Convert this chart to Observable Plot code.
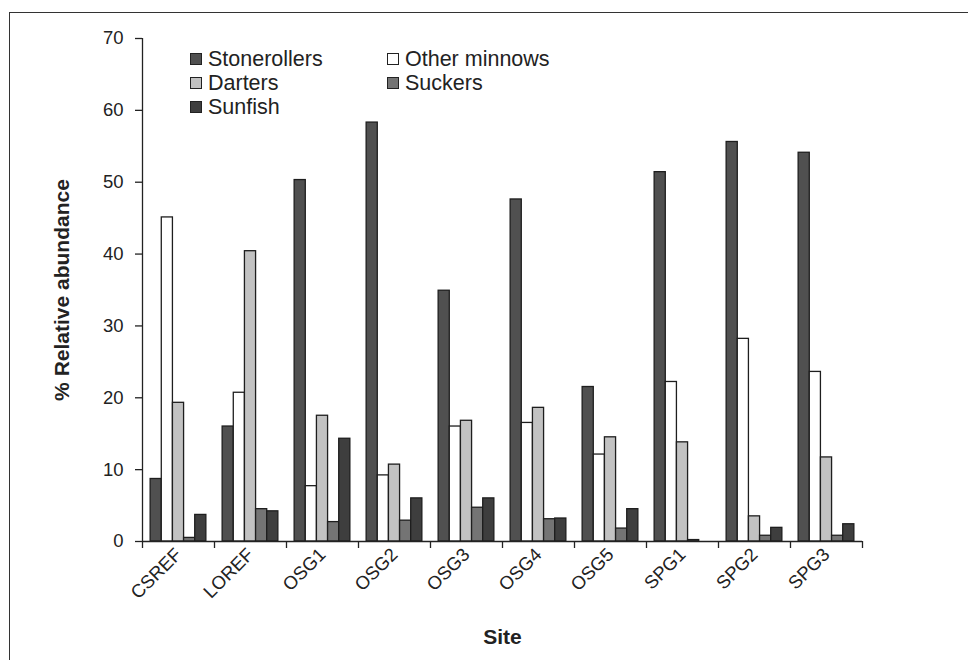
<!DOCTYPE html>
<html>
<head>
<meta charset="utf-8">
<script src="https://cdn.jsdelivr.net/npm/d3@7"></script>
<script src="https://cdn.jsdelivr.net/npm/@observablehq/plot@0.6"></script>
<style>
  html, body { margin: 0; padding: 0; background: #fff; }
  #wrap { position: relative; width: 968px; height: 660px; overflow: hidden; font-family: "Liberation Sans", Arial, sans-serif; }
  #border { position: absolute; left: 9px; top: 12px; width: 980px; height: 700px; border-top: 1.5px solid #333; border-left: 1.5px solid #333; }
  #chart { position: absolute; left: 0; top: 0; }
  #chart svg { font-family: "Liberation Sans", Arial, sans-serif; }
  g[aria-label="y-axis tick label"] text, g[aria-label="fx-axis tick label"] text { font-size: 18.5px; fill: #222; }
  g[aria-label="y-axis label"] text, g[aria-label="fx-axis label"] text { font-size: 21px; font-weight: bold; fill: #222; }
  #legend { position: absolute; left: 190px; top: 47px; display: grid; grid-template-columns: 197px 197px; row-gap: 0; font-size: 21.5px; color: #222; line-height: 24px; }
  #legend .item { display: flex; align-items: center; white-space: nowrap; }
  #legend .sw { width: 12px; height: 12px; border: 1.3px solid #222; box-sizing: border-box; margin-right: 6px; }
</style>
</head>
<body>
<div id="wrap">
  <div id="border"></div>
  <div id="chart"></div>
  <div id="legend"></div>
</div>
<script>
const sites = ["CSREF", "LOREF", "OSG1", "OSG2", "OSG3", "OSG4", "OSG5", "SPG1", "SPG2", "SPG3"];
const species = ["Stonerollers", "Other minnows", "Darters", "Suckers", "Sunfish"];
const stonerollers = [8.7, 16.0, 50.3, 58.3, 34.9, 47.6, 21.5, 51.4, 55.6, 54.1];
const otherMinnows = [45.1, 20.7, 7.7, 9.2, 16.0, 16.5, 12.1, 22.2, 28.2, 23.6];
const darters = [19.3, 40.4, 17.5, 10.7, 16.8, 18.6, 14.5, 13.8, 3.5, 11.7];
const suckers = [0.5, 4.5, 2.7, 2.9, 4.7, 3.1, 1.8, 0.2, 0.8, 0.8];
const sunfish = [3.7, 4.2, 14.3, 6.0, 6.0, 3.2, 4.5, 0, 1.9, 2.4];
const colors = ["#505050", "#ffffff", "#c2c2c2", "#747474", "#3e3e3e"];
const yTicks = [0, 10, 20, 30, 40, 50, 60, 70];

const seriesValues = [stonerollers, otherMinnows, darters, suckers, sunfish];
const data = sites.flatMap((site, i) =>
  species.map((sp, j) => ({site, species: sp, value: seriesValues[j][i]}))
);

const W = 968, H = 660, ML = 142, MR = 106, MT = 38, MB = 119;
const padOuter = 0.73;
const facetW = (W - ML - MR) / sites.length;
const step = facetW / (species.length + 2 * padOuter);
const edge = padOuter * step + step / 2;
const plotH = H - MT - MB;

const chart = Plot.plot({
  width: W,
  height: H,
  marginLeft: ML,
  marginRight: MR,
  marginTop: MT,
  marginBottom: MB,
  fx: {domain: sites, padding: 0, round: false},
  x: {domain: species, paddingInner: 0, paddingOuter: padOuter, round: false, axis: null},
  y: {domain: [0, 70], axis: null},
  color: {domain: species, range: colors},
  marks: [
    Plot.barY(data, {fx: "site", x: "species", y: "value", fill: "species", stroke: "#1e1e1e", strokeWidth: 1.3}),
    Plot.ruleY([0], {stroke: "#222", strokeWidth: 1.3}),
    Plot.ruleX(sites, {fx: d => d, x: () => species[0], dx: -edge, insetTop: plotH, insetBottom: -7, stroke: "#222", strokeWidth: 1.3}),
    Plot.ruleX([sites[0]], {fx: d => d, x: () => species[0], dx: -edge, stroke: "#222", strokeWidth: 1.3}),
    Plot.ruleX([sites[sites.length - 1]], {fx: d => d, x: () => species[species.length - 1], dx: edge, insetTop: plotH, insetBottom: -7, stroke: "#222", strokeWidth: 1.3}),
    Plot.axisY({ticks: yTicks, tickSize: 7, tickPadding: 12, stroke: "#222", strokeWidth: 1.3,
      label: "% Relative abundance", labelAnchor: "center", labelArrow: "none", labelOffset: 88}),
    Plot.axisFx({anchor: "bottom", tickSize: 0, tickRotate: -45, tickPadding: 10,
      label: "Site", labelAnchor: "center", labelArrow: "none", labelOffset: 102})
  ]
});
document.getElementById("chart").appendChild(chart);

const legend = document.getElementById("legend");
species.forEach((sp, i) => {
  const item = document.createElement("div");
  item.className = "item";
  const sw = document.createElement("span");
  sw.className = "sw";
  sw.style.background = colors[i];
  const t = document.createElement("span");
  t.textContent = sp;
  item.appendChild(sw);
  item.appendChild(t);
  legend.appendChild(item);
});
</script>
</body>
</html>
